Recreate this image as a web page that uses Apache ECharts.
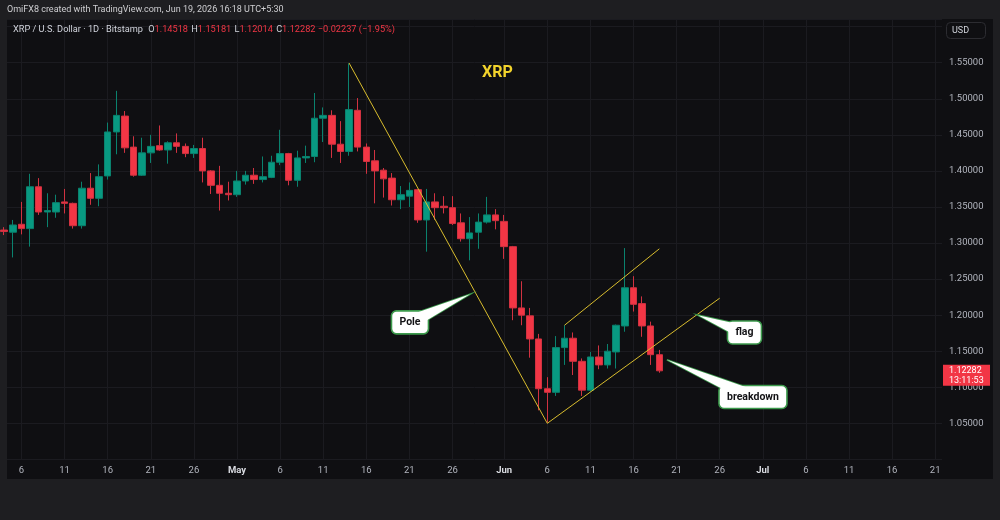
<!DOCTYPE html>
<html><head><meta charset="utf-8">
<script src="https://cdn.jsdelivr.net/npm/echarts@6/dist/echarts.min.js"></script>
<style>
html,body{margin:0;padding:0;background:#1e1e21;}
#wrap{position:relative;width:1000px;height:520px;overflow:hidden;}
#pane{position:absolute;left:7px;top:19px;width:986px;height:460px;background:#0f0f12;}
#chart{position:absolute;left:0;top:0;width:1000px;height:520px;}
</style></head><body>
<div id="wrap"><div id="pane"></div><div id="chart"></div></div>
<script>
// ---- data ----
const dates = [
'2026-04-04','2026-04-05','2026-04-06','2026-04-07','2026-04-08','2026-04-09','2026-04-10','2026-04-11','2026-04-12','2026-04-13',
'2026-04-14','2026-04-15','2026-04-16','2026-04-17','2026-04-18','2026-04-19','2026-04-20','2026-04-21','2026-04-22','2026-04-23',
'2026-04-24','2026-04-25','2026-04-26','2026-04-27','2026-04-28','2026-04-29','2026-04-30',
'2026-05-01','2026-05-02','2026-05-03','2026-05-04','2026-05-05','2026-05-06','2026-05-07','2026-05-08','2026-05-09','2026-05-10',
'2026-05-11','2026-05-12','2026-05-13','2026-05-14','2026-05-15','2026-05-16','2026-05-17','2026-05-18','2026-05-19','2026-05-20',
'2026-05-21','2026-05-22','2026-05-23','2026-05-24','2026-05-25','2026-05-26','2026-05-27','2026-05-28','2026-05-29','2026-05-30','2026-05-31',
'2026-06-01','2026-06-02','2026-06-03','2026-06-04','2026-06-05','2026-06-06','2026-06-07','2026-06-08','2026-06-09','2026-06-10',
'2026-06-11','2026-06-12','2026-06-13','2026-06-14','2026-06-15','2026-06-16','2026-06-17','2026-06-18','2026-06-19'];
const open = [
1.318,1.315,1.326,1.320,1.378,1.343,1.343,1.357,1.355,1.324,
1.376,1.362,1.393,1.454,1.476,1.433,1.394,1.425,1.435,1.429,
1.439,1.434,1.424,1.431,1.400,1.380,1.369,
1.367,1.386,1.394,1.388,1.391,1.412,1.424,1.387,1.418,1.420,
1.473,1.477,1.437,1.427,1.484,1.433,1.414,1.401,1.390,1.360,
1.365,1.374,1.332,1.357,1.351,1.349,1.328,1.306,1.315,1.329,1.339,
1.330,1.295,1.210,1.199,1.167,1.098,1.093,1.155,1.168,1.136,
1.096,1.142,1.131,1.149,1.185,1.238,1.216,1.185,1.14518];
const high = [
1.322,1.332,1.357,1.396,1.390,1.369,1.367,1.375,1.356,1.385,
1.397,1.409,1.467,1.511,1.483,1.448,1.446,1.450,1.463,1.441,
1.452,1.438,1.436,1.446,1.401,1.407,1.385,
1.400,1.400,1.404,1.420,1.421,1.457,1.425,1.428,1.435,1.508,
1.488,1.484,1.469,1.549,1.501,1.438,1.429,1.404,1.397,1.379,
1.384,1.375,1.375,1.369,1.365,1.365,1.341,1.336,1.341,1.364,1.347,
1.339,1.296,1.247,1.210,1.174,1.114,1.171,1.186,1.176,1.140,
1.149,1.158,1.160,1.187,1.293,1.254,1.226,1.191,1.15181];
const low = [
1.311,1.280,1.312,1.295,1.339,1.322,1.335,1.341,1.320,1.320,
1.353,1.351,1.388,1.423,1.425,1.392,1.393,1.411,1.428,1.410,
1.425,1.419,1.418,1.384,1.368,1.345,1.359,
1.364,1.381,1.382,1.384,1.390,1.408,1.380,1.378,1.411,1.412,
1.440,1.418,1.411,1.421,1.427,1.396,1.355,1.363,1.352,1.347,
1.350,1.328,1.288,1.332,1.341,1.325,1.302,1.276,1.292,1.327,1.319,
1.278,1.193,1.186,1.141,1.068,1.051,1.088,1.131,1.117,1.088,
1.094,1.125,1.126,1.126,1.177,1.205,1.170,1.131,1.12014];
const close = [
1.316,1.325,1.320,1.378,1.343,1.345,1.356,1.355,1.324,1.376,
1.362,1.392,1.454,1.477,1.432,1.394,1.425,1.434,1.429,1.439,
1.434,1.424,1.431,1.400,1.380,1.369,1.367,
1.386,1.394,1.388,1.392,1.412,1.424,1.387,1.418,1.420,1.473,
1.477,1.437,1.427,1.485,1.433,1.413,1.400,1.389,1.360,1.367,
1.373,1.332,1.357,1.349,1.349,1.327,1.306,1.314,1.329,1.339,1.331,
1.295,1.210,1.200,1.167,1.098,1.093,1.155,1.168,1.136,1.096,
1.142,1.131,1.150,1.186,1.238,1.215,1.185,1.14519,1.12282];
const xTicks = ['2026-04-06','2026-04-11','2026-04-16','2026-04-21','2026-04-26','2026-05-01','2026-05-06','2026-05-11',
'2026-05-16','2026-05-21','2026-05-26','2026-06-01','2026-06-06','2026-06-11','2026-06-16','2026-06-21','2026-06-26',
'2026-07-01','2026-07-06','2026-07-11','2026-07-16','2026-07-21'];
const monthNames = ['Jan','Feb','Mar','Apr','May','Jun','Jul','Aug','Sep','Oct','Nov','Dec'];
// drawn trendlines (date, price)
const poleLine = [['2026-05-14', 1.5496], ['2026-06-06', 1.050]];
const flagUpper = [['2026-06-08', 1.186], ['2026-06-19', 1.292]];
const flagLower = [['2026-06-06', 1.050], ['2026-06-26', 1.2235]];
// callouts
const calloutTexts = ['Pole', 'flag', 'breakdown'];
const calloutTargetDates = ['2026-05-28 00:45', '2026-06-23 11:30', '2026-06-19 21:00'];
const calloutTargetPrices = [1.229, 1.200, 1.138];
const calloutBoxDates = ['2026-05-21 01:40', '2026-06-28 21:00', '2026-06-29 20:40'];
const calloutBoxPrices = [1.190, 1.176, 1.0865];
const headerText = 'OmiFX8 created with TradingView.com, Jun 19, 2026 16:18 UTC+5:30';
const symbolText = 'XRP / U.S. Dollar · 1D · Bitstamp';
const countdownText = '13:11:53';

// ---- helpers ----
function ts(s){
  const parts = s.split(' ');
  const [y,m,d] = parts[0].split('-').map(Number);
  let h=0, mi=0;
  if(parts[1]){ [h,mi] = parts[1].split(':').map(Number); }
  return new Date(y, m-1, d, h, mi).getTime();
}
const FONT = 'Roboto, "Noto Sans", sans-serif';
const UP = '#089981', DOWN = '#f23645';
const xMin = ts('2026-04-04 07:40'), xMax = ts('2026-07-21 19:00');
const n = close.length;
const lastO = open[n-1], lastH = high[n-1], lastL = low[n-1], lastC = close[n-1];
const chg = lastC - close[n-2];
const pct = chg / close[n-2] * 100;
const fmtSigned = v => (v < 0 ? '\u2212' : '+') + Math.abs(v).toFixed(5);

const mctx = document.createElement('canvas').getContext('2d');
function textW(t, font){ mctx.font = font; return mctx.measureText(t).width; }

const chart = echarts.init(document.getElementById('chart'), null, {renderer:'canvas'});
const option = {
  animation: false,
  backgroundColor: 'transparent',
  textStyle: {fontFamily: FONT},
  title: [
    {text: headerText, left: 7, top: 5, padding: 0,
     textStyle: {color: '#cfcfd2', fontSize: 9, fontWeight: 'normal', fontFamily: FONT}},
    {text: '{t|' + symbolText + '} {l|O}{v|' + lastO.toFixed(5) + '} {l|H}{v|' + lastH.toFixed(5) +
       '} {l|L}{v|' + lastL.toFixed(5) + '} {l|C}{v|' + lastC.toFixed(5) + '} {v|' + fmtSigned(chg) +
       ' (' + (pct<0?'\u2212':'+') + Math.abs(pct).toFixed(2) + '%)}',
     left: 13, top: 25, padding: 0,
     textStyle: {fontSize: 9.2, fontFamily: FONT, fontWeight: 'normal',
       rich: {t:{color:'#d1d4dc', fontSize:9.2, fontFamily: FONT, padding:[0,2,0,0]},
              l:{color:'#d1d4dc', fontSize:9.2, fontFamily: FONT, padding:[0,0,0,1]},
              v:{color:DOWN, fontSize:9.2, fontFamily: FONT}}}},
    {text: 'XRP', left: 482, top: 65, padding: 0,
     textStyle: {color: '#f2d32c', fontSize: 16, fontWeight: 'bold', fontFamily: FONT}},
    {text: 'USD', left: 946, top: 22, padding: [4, 17, 4, 6], borderColor: '#2c2c31', borderWidth: 1, borderRadius: 4,
     textStyle: {color: '#d1d4dc', fontSize: 9, fontWeight: 'normal', fontFamily: FONT}}
  ],
  grid: {left: 7, right: 58, top: 19, bottom: 60.6, containLabel: false},
  xAxis: {
    type: 'value', min: xMin, max: xMax, scale: true,
    axisLine: {show: false},
    axisTick: {show: false, customValues: xTicks.map(ts)},
    axisLabel: {
      customValues: xTicks.map(ts), margin: 6, hideOverlap: false, showMinLabel: true, showMaxLabel: true,
      color: '#b2b5be', fontSize: 9.5, fontFamily: FONT,
      formatter: function(v){
        const d = new Date(v);
        return d.getDate() === 1 ? '{m|' + monthNames[d.getMonth()] + '}' : String(d.getDate());
      },
      rich: {m: {color: '#d9dbe1', fontWeight: 'bold', fontSize: 9.5, fontFamily: FONT}}
    },
    splitLine: {show: true, lineStyle: {color: '#1b1b20', width: 1}}
  },
  yAxis: {
    type: 'value', position: 'right', min: 1.0, max: 1.6106, interval: 0.05, scale: true,
    axisLine: {show: false}, axisTick: {show: false},
    axisLabel: {margin: 7, color: '#b2b5be', fontSize: 9.5, fontFamily: FONT, showMaxLabel: false,
      formatter: v => (v < 1.02 || v > 1.58) ? '' : v.toFixed(5)},
    splitLine: {show: true, lineStyle: {color: '#1b1b20', width: 1}}
  },
  series: [
    {
      type: 'candlestick', barWidth: 7, clip: true,
      data: dates.map((d, i) => [ts(d), open[i], close[i], low[i], high[i]]),
      itemStyle: {color: UP, color0: DOWN, borderColor: '#0a826e', borderColor0: '#d13241', borderWidth: 1}
    },
    {type: 'line', silent: true, symbol: 'none', data: poleLine.map(p => [ts(p[0]), p[1]]),
     lineStyle: {color: '#d9bd2e', width: 1}, z: 4},
    {type: 'line', silent: true, symbol: 'none', data: flagUpper.map(p => [ts(p[0]), p[1]]),
     lineStyle: {color: '#d9bd2e', width: 1}, z: 4},
    {type: 'line', silent: true, symbol: 'none', data: flagLower.map(p => [ts(p[0]), p[1]]),
     lineStyle: {color: '#d9bd2e', width: 1}, z: 4},
    {
      type: 'custom', silent: true, clip: false, z: 6,
      data: calloutTexts.map((t, i) => [ts(calloutTargetDates[i]), calloutTargetPrices[i], ts(calloutBoxDates[i]), calloutBoxPrices[i]]),
      renderItem: function(params, api){
        const i = params.dataIndex;
        const t = api.coord([api.value(0), api.value(1)]);
        const b = api.coord([api.value(2), api.value(3)]);
        const txt = calloutTexts[i];
        const font = 'bold 10.5px ' + FONT;
        const w = Math.round(textW(txt, font) + 16), h = 23;
        const rx = b[0] - w/2, ry = b[1] - h/2;
        const dx = t[0]-b[0], dy = t[1]-b[1], len = Math.hypot(dx, dy);
        const nx = -dy/len, ny = dx/len, hw = 7;
        const tail = [[t[0], t[1]], [b[0]+nx*hw, b[1]+ny*hw], [b[0]-nx*hw, b[1]-ny*hw]];
        const green = '#3c9a4c';
        return {type: 'group', children: [
          {type: 'polygon', shape: {points: tail}, style: {fill: '#ffffff', stroke: green, lineWidth: 1.6}},
          {type: 'rect', shape: {x: rx, y: ry, width: w, height: h, r: 5}, style: {fill: '#ffffff', stroke: green, lineWidth: 1.6}},
          {type: 'polygon', shape: {points: tail}, style: {fill: '#ffffff'}},
          {type: 'text', x: b[0], y: b[1], style: {text: txt, font: font, fill: '#131316', align: 'center', verticalAlign: 'middle'}}
        ]};
      }
    },
    {
      type: 'custom', silent: true, clip: false, z: 7,
      data: [[xMax, lastC]],
      renderItem: function(params, api){
        const c = api.coord([api.value(0), api.value(1)]);
        return {type: 'group', children: [
          {type: 'rect', shape: {x: c[0] + 1, y: c[1] - 6, width: 47, height: 21}, style: {fill: DOWN}},
          {type: 'text', x: c[0] + 7, y: c[1] - 5.5, style: {text: lastC.toFixed(5) + '\n' + countdownText,
            font: '9px ' + FONT, fill: '#ffffff', lineHeight: 10.5, verticalAlign: 'top', align: 'left'}}
        ]};
      }
    }
  ]
};
chart.setOption(option);
</script>
</body></html>
